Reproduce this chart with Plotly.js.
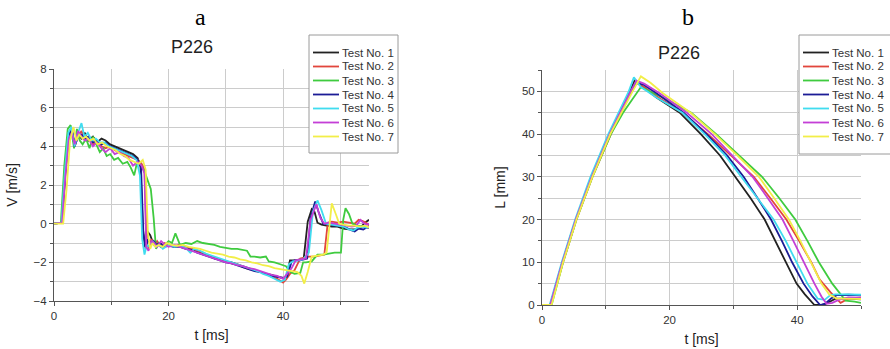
<!DOCTYPE html>
<html>
<head>
<meta charset="utf-8">
<script src="https://cdn.plot.ly/plotly-3.0.1.min.js"></script>
<style>html,body{margin:0;padding:0;background:#fff;}#chart{width:890px;height:349px;}</style>
</head>
<body>
<div id="chart"></div>
<script>
// ---------- labels ----------
const seriesNames = ["Test No. 1","Test No. 2","Test No. 3","Test No. 4","Test No. 5","Test No. 6","Test No. 7"];
const seriesColors = ["#222222","#e2463c","#3fcb3f","#1c1c96","#40dcef","#c43fd6","#f2ee48"];
const panelTitle = "P226";
const panelLetters = ["a","b"];

// ---------- panel a : velocity V [m/s] vs t [ms] ----------
const vT1 = [0,1.4,2.0,2.6,3.1,3.6,4.2,4.8,5.4,6.0, 6.8,7.5,8.3,9.0,9.8,10.6,11.4,12.2,13.0,13.8, 14.6,15.1,15.5,15.9,16.3,16.8,17.3,17.8,18.5,19.2, 20,21,22,23,24,25,26,27,28,29, 30,31,32,33,34,35,36,37,38,39, 40,40.5,41.2,42,43,43.6,44.3,45,45.5,46, 46.7,47.5,48.5,49.5,50.5,51.5,52.5,53.5,54.3,55];
const vV1 = [0,0.05,2.8,4.6,4.9,4.1,4.6,4.4,4.7,4.3, 4.5,4.2,4.4,4.3,4.1,4.0,3.9,3.8,3.7,3.6, 3.4,3.0,-0.2,-1.2,-0.4,-0.6,-1.0,-1.1,-1.0,-1.2, -1.1,-1.2,-1.1,-1.25,-1.3,-1.45,-1.55,-1.65,-1.8,-1.85, -1.95,-2.0,-2.1,-2.2,-2.3,-2.4,-2.5,-2.6,-2.65,-2.75, -2.8,-2.85,-1.9,-1.9,-1.85,-1.8,0.1,0.75,0.6,0.05, -0.05,-0.1,-0.15,-0.15,-0.25,-0.3,-0.3,-0.2,0.05,0.2];

const vT2 = [0,1.4,2.0,2.6,3.1,3.6,4.2,4.8,5.4,6.0, 6.8,7.5,8.3,9.0,9.8,10.6,11.4,12.2,13.0,13.8, 14.6,15.3,15.8,16.2,16.6,17.0,17.5,18.0,18.6,19.3, 20,21,22,23,24,25,26,27,28,29, 30,31,32,33,34,35,36,37,38,39, 40,40.5,41.2,42,43,43.6,44.5,45.5,46.5,47.2, 47.8,48.5,49.5,50.5,51.5,52.5,53.2,53.8,54.5,55];
const vV2 = [0,0.05,2.6,4.5,4.8,4.0,4.5,4.8,4.3,4.5, 4.1,4.2,4.0,3.9,4.0,3.8,3.7,3.6,3.5,3.4, 3.3,3.1,2.8,-1.0,-1.3,-0.8,-1.1,-0.9,-1.2,-1.0, -1.1,-1.15,-1.1,-1.2,-1.3,-1.4,-1.5,-1.65,-1.75,-1.85, -1.95,-2.05,-2.1,-2.25,-2.35,-2.4,-2.5,-2.6,-2.75,-2.85, -3.05,-2.9,-2.6,-2.4,-1.8,-1.75,-1.7,-1.7,-1.65,-1.6, 0.05,0.1,0.05,0.1,0.05,0.0,0.2,0.15,0.05,-0.1];

const vT3 = [0,1.2,1.8,2.4,2.9,3.5,4.0,4.5,5.0,5.6, 6.2,6.8,7.4,8.0,8.6,9.2,9.8,10.5,11.2,12.0, 12.8,13.4,14.0,14.6,15.2,15.8,16.4,16.9,17.4,17.8, 18.3,18.8,19.4,20,20.6,21.2,22,23,24,25, 26,27,28,29,30,31,32,33,33.7,34.3, 35,36,37,37.5,38.5,39.5,40.5,41.3,42,43, 43.5,44,45,46,47,48,49,50.1,50.5,50.9, 51.5,52.1,53,54,55];
const vV3 = [0,0.05,3.0,4.9,5.1,3.9,4.9,4.3,4.1,4.4, 3.9,4.5,4.1,3.7,3.9,3.5,3.6,3.3,3.4,3.1, 3.2,2.9,2.5,3.3,3.0,2.7,2.2,1.8,0.3,-1.3, -1.0,-1.2,-1.1,-0.9,-1.0,-0.5,-1.1,-1.0,-1.05,-0.9, -1.0,-1.05,-1.1,-1.2,-1.25,-1.3,-1.3,-1.35,-1.4,-1.7, -1.7,-1.75,-1.7,-1.95,-2.0,-2.1,-2.2,-2.5,-2.6,-2.55, -2.0,-2.0,-1.95,-1.6,-1.6,-1.55,-1.5,-1.5,0.2,0.8, 0.5,0.0,-0.1,-0.15,-0.2];

const vT4 = [0,1.4,2.0,2.6,3.1,3.6,4.2,4.8,5.4,6.0, 6.8,7.5,8.3,9.0,9.8,10.6,11.4,12.2,13.0,13.8, 14.6,15.2,15.6,16.0,16.4,16.9,17.4,17.9,18.5,19.2, 20,21,22,23,24,25,26,27,28,29, 30,31,32,33,34,35,36,37,38,39, 40,40.7,41.5,42,43,44.2,44.8,45.6,46.2,47, 48,49,50,51,52,52.5,53.2,54,54.6,55];
const vV4 = [0,0.05,2.7,4.6,4.9,4.0,4.5,4.6,4.4,4.5, 4.2,4.3,4.1,4.2,4.0,3.9,3.8,3.7,3.6,3.5, 3.3,2.9,-0.5,-1.3,-0.8,-1.1,-0.9,-1.1,-1.0,-1.2, -1.15,-1.2,-1.2,-1.3,-1.35,-1.5,-1.6,-1.7,-1.8,-1.9, -2.0,-2.05,-2.15,-2.25,-2.35,-2.45,-2.5,-2.6,-2.7,-2.75, -2.8,-2.75,-1.95,-1.9,-1.9,-1.8,0.3,1.15,0.6,0.0, -0.05,-0.1,-0.1,-0.2,-0.35,-0.4,-0.25,-0.3,-0.2,-0.2];

const vT5 = [0,1.3,1.9,2.5,3.0,3.6,4.2,4.8,5.3,5.9, 6.6,7.3,8.0,8.8,9.6,10.4,11.2,12.0,12.8,13.6, 14.4,15.0,15.4,15.8,16.2,16.7,17.2,17.8,18.4,19.0, 20,21,22,23,23.8,24.5,25.5,26.5,27.5,28.5, 29.5,30.5,31.5,32.5,33.5,34.5,35.5,36.5,37.5,38.5, 39.5,40.3,41,41.7,42.5,43.5,44.5,45.2,46,46.7, 47.5,48.5,49.5,50.5,51.5,52.3,53,53.8,54.5,55];
const vV5 = [0,0.05,2.7,4.7,5.0,4.0,4.7,5.2,4.5,4.7, 4.3,4.4,4.2,4.2,4.0,3.9,3.8,3.7,3.6,3.5, 3.3,2.5,-0.8,-1.6,-1.1,-1.2,-0.9,-1.2,-1.1,-1.3, -1.1,-1.2,-1.15,-1.25,-1.5,-1.3,-1.4,-1.55,-1.65,-1.75, -1.85,-1.95,-2.05,-2.15,-2.25,-2.35,-2.45,-2.6,-2.7,-2.85, -3.0,-2.9,-2.1,-1.95,-1.9,-1.85,-1.5,0.6,1.2,0.7, 0.0,-0.05,-0.1,-0.15,-0.3,-0.35,-0.2,-0.15,-0.2,-0.15];

const vT6 = [0,1.4,2.0,2.6,3.1,3.6,4.2,4.8,5.4,6.0, 6.8,7.5,8.3,9.0,9.8,10.6,11.4,12.2,13.0,13.8, 14.6,15.3,15.8,16.1,16.5,17.0,17.5,18.0,18.7,19.4, 20,21,22,23,24,25,26,27,28,29, 30,31,32,33,34,35,36,37,38,39, 40,40.7,41.5,42.2,43,44,44.8,45.8,46.5,47.2, 48,49,50,51,52,52.8,53.5,54,54.6,55];
const vV6 = [0,0.05,2.5,4.4,4.7,4.1,4.8,4.5,4.3,4.4, 4.0,4.2,3.9,3.7,3.9,3.6,3.7,3.5,3.4,3.0, 3.2,3.0,2.6,-1.2,-1.4,-0.9,-1.0,-1.2,-0.9,-1.1, -1.2,-1.1,-1.2,-1.3,-1.4,-1.5,-1.6,-1.7,-1.8,-1.9, -2.0,-2.05,-2.15,-2.2,-2.3,-2.35,-2.45,-2.55,-2.65,-2.7, -2.85,-2.6,-2.3,-1.9,-1.85,-1.8,0.2,1.0,0.3,0.0, 0.05,0.0,-0.05,-0.1,-0.15,-0.1,0.2,0.05,-0.05,0.0];

const vT7 = [0,1.6,2.2,2.8,3.4,3.9,4.4,5.0,5.6,6.2, 6.9,7.6,8.4,9.2,10.0,10.8,11.6,12.4,13.2,14.0, 14.8,15.5,16.0,16.4,16.8,17.2,17.7,18.3,19.0,19.7, 20.5,21.5,22.5,23.5,24.5,25.5,26.5,27.5,28.5,29.5, 30.5,31.5,32.5,33.5,34.5,35.5,36.5,37.5,38.5,39.5, 40.5,41.5,42.5,43.2,43.7,44.3,45,46,47,47.6, 48.5,49.2,49.8,50.5,51.5,52.5,53.5,54.3,55];
const vV7 = [0,0.0,1.8,4.3,5.0,4.3,4.6,4.4,4.5,4.3, 4.4,4.1,4.2,4.0,3.9,3.8,3.6,3.5,3.3,3.2, 3.1,3.3,2.8,-0.5,-1.3,-1.0,-1.2,-1.1,-1.2,-1.0, -1.1,-1.15,-1.1,-1.2,-1.25,-1.3,-1.4,-1.5,-1.55,-1.6, -1.7,-1.75,-1.85,-1.9,-2.0,-2.05,-2.15,-2.2,-2.3,-2.35, -2.4,-2.45,-2.5,-2.7,-3.1,-2.5,-1.7,-1.65,-1.6,-1.5, 1.05,0.5,0.0,-0.05,-0.1,-0.1,-0.15,-0.1,-0.2];

// ---------- panel b : displacement L [mm] vs t [ms] ----------
const lT1 = [0,1.3,3.2,5.3,7.8,10.6,13.8,14.5,15.8,18,21.6,24.9,27.9,30.3,32.7,34.9,36.6,38.2,39.9,41.2,42.7,43.8,44.5,46,48,50];
const lL1 = [0,0,10,20,30,40,50,52.5,51,48.5,45,40,35,30,25,20,15,10,5,2.5,0,0,0.3,1.5,1.5,1.3];
const lT2 = [0,1.4,3.3,5.4,7.9,10.8,14.0,14.8,16,18,22,26,29.6,33.2,35.8,38.3,40.3,42.2,43.5,45.2,46.8,48,50];
const lL2 = [0,0,10,20,30,40,50,52,51,48.8,45,40,35,30,25,20,15,10,6,3,0.5,1.5,1.8];
const lT3 = [0,1.5,3.3,5.4,7.9,10.8,12.7,15.0,15.5,19,23.4,27.3,30.9,34.5,37.2,39.7,41.6,43.4,45.5,47.6,49,50];
const lL3 = [0,0,10,20,30,40,45,50,51,48.5,45,40,35,30,25,20,15,10,5,1,0.8,0.5];
const lT4 = [0,1.3,3.2,5.3,7.8,10.6,13.9,14.8,16,18,22.2,25.8,29,31.6,33.8,35.9,37.6,39.2,41,42.4,43.6,44.4,45.3,46.2,48,50];
const lL4 = [0,0,10,20,30,40,50,52,51.5,49.5,45,40,35,30,25,20,15,10,5,2,0,0.3,1.5,2.3,2.4,2.3];
const lT5 = [0,1.2,3.1,5.2,7.6,10.4,13.6,14.4,15.5,18,22,25.5,28.7,31.2,33.8,36.3,38.2,39.9,41.6,43.2,44.3,45.2,46,48,50];
const lL5 = [0,0,10,20,30,40,50,53.3,51,48.5,45,40,35,30,25,20,15,10,5,1.5,1.2,2.3,2.5,2.5,2.4];
const lT6 = [0,1.3,3.2,5.3,7.8,10.6,13.9,14.8,16,18.5,22.7,26.6,29.8,33,35.4,37.7,39.4,41,42.7,43.8,44.6,45.5,46.5,48,50];
const lL6 = [0,0,10,20,30,40,50,52.5,51.8,49.5,45,40,35,30,25,20,15,10,5,2,0.3,0.5,1.2,1.8,1.7];
const lT7 = [0,1.5,3.3,5.4,7.9,10.7,14.2,15.5,17,19,23.3,27.1,30.6,34,36.4,38.7,40.5,42.2,43.8,45,46.2,47.5,50];
const lL7 = [0,0,10,20,30,40,50,53.5,52,49.5,45,40,35,30,25,20,15,10,5,2.5,1.5,1.5,1.4];

const vTimes = [vT1,vT2,vT3,vT4,vT5,vT6,vT7];
const vVals  = [vV1,vV2,vV3,vV4,vV5,vV6,vV7];
const lTimes = [lT1,lT2,lT3,lT4,lT5,lT6,lT7];
const lVals  = [lL1,lL2,lL3,lL4,lL5,lL6,lL7];

const traces = [];
seriesNames.forEach((name, i) => {
  traces.push({x: vTimes[i], y: vVals[i], type: 'scatter', mode: 'lines', name: name, showlegend: false,
    line: {color: seriesColors[i], width: 1.8}, xaxis: 'x', yaxis: 'y'});
});
seriesNames.forEach((name, i) => {
  traces.push({x: lTimes[i], y: lVals[i], type: 'scatter', mode: 'lines', name: name, showlegend: false,
    line: {color: seriesColors[i], width: 1.8}, xaxis: 'x2', yaxis: 'y2'});
});

const W = 890, H = 349;
const SANS = 'Arial, Liberation Sans, sans-serif';
const gridC = '#cccccc', axC = '#555555';
const tickFont = {family: SANS, size: 11.5, color: '#333'};
const titleFont = {family: SANS, size: 14, color: '#222'};

function xAxis(domain, range, anchor) {
  return {domain: domain, range: range, anchor: anchor, tickmode: 'linear', tick0: 0, dtick: 20,
    showgrid: true, gridcolor: gridC, gridwidth: 1,
    minor: {dtick: 10, showgrid: true, gridcolor: gridC, gridwidth: 1, ticks: 'outside', ticklen: 3, tickcolor: axC},
    showline: true, linecolor: axC, linewidth: 1, ticks: 'outside', ticklen: 4, tickcolor: axC,
    zeroline: false, tickfont: tickFont, fixedrange: true,
    title: {text: 't [ms]', font: titleFont, standoff: 9}};
}
function yAxis(domain, range, dtick, minorDtick, anchor, text, standoff) {
  return {domain: domain, range: range, anchor: anchor, tickmode: 'linear', tick0: 0, dtick: dtick,
    showgrid: true, gridcolor: gridC, gridwidth: 1,
    minor: {dtick: minorDtick, showgrid: true, gridcolor: gridC, gridwidth: 1, ticks: 'outside', ticklen: 3, tickcolor: axC},
    showline: true, linecolor: axC, linewidth: 1, ticks: 'outside', ticklen: 4, tickcolor: axC,
    zeroline: false, tickfont: tickFont, fixedrange: true,
    title: {text: text, font: titleFont, standoff: standoff}};
}

// ---------- legend boxes (one per panel), built from seriesNames / seriesColors ----------
const shapes = [], annotations = [];
function addLegend(x0, x1, y0, y1, lineX0, lineX1, textX, firstY, stepY) {
  shapes.push({type: 'rect', xref: 'paper', yref: 'paper', x0: x0/W, x1: x1/W, y0: 1-y1/H, y1: 1-y0/H,
    line: {color: '#9a9a9a', width: 1}, fillcolor: '#ffffff', layer: 'above'});
  seriesNames.forEach((name, i) => {
    const yy = 1 - (firstY + i*stepY)/H;
    shapes.push({type: 'line', xref: 'paper', yref: 'paper', x0: lineX0/W, x1: lineX1/W, y0: yy, y1: yy,
      line: {color: seriesColors[i], width: 1.8}, layer: 'above'});
    annotations.push({text: name, xref: 'paper', yref: 'paper', x: textX/W, y: yy, xanchor: 'left', yanchor: 'middle',
      showarrow: false, font: {family: SANS, size: 11.5, color: '#333'}});
  });
}
addLegend(309, 398, 35, 153, 313, 339, 339.5, 52.5, 14);
addLegend(799, 893, 35, 154, 803, 829, 829.5, 52.5, 14);

annotations.push(
  {text: panelLetters[0], xref: 'paper', yref: 'paper', x: 200/W, y: 1-17/H, xanchor: 'center', yanchor: 'middle', showarrow: false,
   font: {family: 'Liberation Serif, Times New Roman, serif', size: 24, color: '#000'}},
  {text: panelLetters[1], xref: 'paper', yref: 'paper', x: 688/W, y: 1-17/H, xanchor: 'center', yanchor: 'middle', showarrow: false,
   font: {family: 'Liberation Serif, Times New Roman, serif', size: 24, color: '#000'}},
  {text: panelTitle, xref: 'paper', yref: 'paper', x: 192/W, y: 1-47/H, xanchor: 'center', yanchor: 'middle', showarrow: false,
   font: {family: SANS, size: 18, color: '#222'}},
  {text: panelTitle, xref: 'paper', yref: 'paper', x: 679/W, y: 1-53/H, xanchor: 'center', yanchor: 'middle', showarrow: false,
   font: {family: SANS, size: 18, color: '#222'}}
);

const layout = {
  width: W, height: H,
  margin: {l: 0, r: 0, t: 0, b: 0, autoexpand: false},
  paper_bgcolor: '#ffffff', plot_bgcolor: '#ffffff',
  showlegend: false,
  xaxis: xAxis([54/W, 369/W], [0, 55], 'y'),
  yaxis: yAxis([1-301/H, 1-69/H], [-4, 8], 2, 1, 'x', 'V [m/s]', 12),
  xaxis2: xAxis([542/W, 861/W], [0, 50], 'y2'),
  yaxis2: yAxis([1-305/H, 1-70/H], [0, 55], 10, 5, 'x2', 'L [mm]', 13),
  shapes: shapes,
  annotations: annotations
};

Plotly.newPlot('chart', traces, layout, {displayModeBar: false, staticPlot: true});
</script>
</body>
</html>
